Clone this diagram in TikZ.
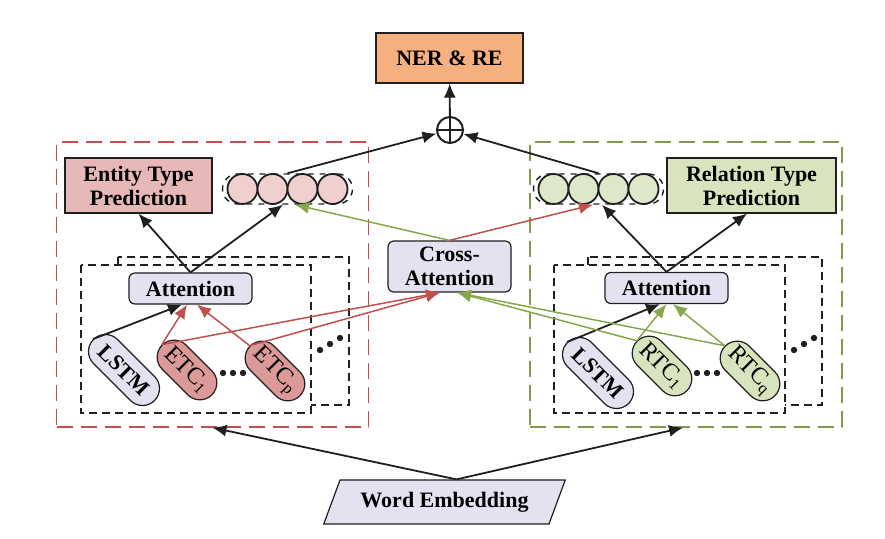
\documentclass[tikz,border=0pt]{standalone}
\usepackage{fontspec}
\setmainfont{Liberation Serif}
\usepackage{xcolor}
\usetikzlibrary{arrows.meta,shapes.geometric}
\definecolor{dark}{HTML}{1F1F1F}
\definecolor{redln}{HTML}{C0504D}
\definecolor{grnln}{HTML}{86A84A}
\definecolor{grnfr}{HTML}{7F9A48}
\definecolor{orng}{HTML}{F6B07F}
\definecolor{pinkb}{HTML}{E6B9B8}
\definecolor{pinkc}{HTML}{F0D0CE}
\definecolor{pinkp}{HTML}{DB9A98}
\definecolor{grnb}{HTML}{D7E4BD}
\definecolor{grnc}{HTML}{DDE8CB}
\definecolor{lav}{HTML}{E4E1F0}

\begin{document}
\begin{tikzpicture}[x=0.5pt,y=-0.5pt,
    font=\bfseries\fontsize{11}{12}\selectfont,
    box/.style={draw=dark, line width=0.6pt, align=center, inner sep=1pt},
    soft/.style={box, rounded corners=3pt, fill=lav},
    pill/.style={draw=dark, line width=0.6pt, rounded corners=8.5pt, minimum height=17pt, rotate=-45, inner xsep=6pt, inner ysep=1pt},
    tag/.style={pill, inner xsep=4pt, font=\mdseries\fontsize{12}{13}\selectfont},
    ball/.style={circle, draw=dark, line width=0.9pt, minimum size=15pt, inner sep=0pt},
    chain/.style={draw=dark, dashed, line width=0.7pt, rounded corners=7.5pt, minimum width=65pt, minimum height=15pt},
    frame/.style={dash pattern=on 8pt off 4pt, line width=0.7pt, minimum width=156pt, minimum height=142.5pt},
    inbox/.style={draw=dark, dash pattern=on 4pt off 2.5pt, line width=0.7pt, fill=white},
    arr/.style={-{Latex[length=7pt,width=6pt]}, line width=0.9pt, draw=dark},
    rarr/.style={arr, draw=redln, line width=0.75pt},
    garr/.style={arr, draw=grnln, line width=0.75pt}]
  \useasboundingbox (0,0) rectangle (885,539);

  % outer frames
  \node[frame, draw=redln] (entframe) at (212.5,284.5) {};
  \node[frame, draw=grnfr] (relframe) at (686,284.5) {};

  % stacked inner boxes
  \draw[inbox] (118,257) rectangle (349,405);
  \draw[inbox] (81,265) rectangle (311,413);
  \draw[inbox] (588,257) rectangle (822,405);
  \draw[inbox] (554,265) rectangle (785,413);

  % top
  \node[box, fill=orng, minimum width=73.5pt, minimum height=25pt] (ner) at (449.5,58) {NER \& RE};
  \node[circle, draw=dark, line width=1pt, fill=white, minimum size=13pt, inner sep=0pt,
        path picture={\draw[line width=1pt] (path picture bounding box.north) -- (path picture bounding box.south)
                      (path picture bounding box.west) -- (path picture bounding box.east);}] (plus) at (450,130) {};

  % prediction boxes
  \node[box, fill=pinkb, minimum width=73.5pt, minimum height=27.5pt] (entbox) at (138.5,185.5) {Entity Type\\Prediction};
  \node[box, fill=grnb, minimum width=84.5pt, minimum height=27.5pt] (relbox) at (751.5,185.5) {Relation Type\\Prediction};

  % hidden state chains
  \node[chain] (embL) at (287.5,189) {};
  \foreach \i/\x in {1/242.5,2/272.5,3/302.5,4/332.5}
    \node[ball, fill=pinkc] (cl\i) at (\x,189) {};
  \node[chain] (embR) at (598.5,189) {};
  \foreach \i/\x in {1/553.5,2/583.5,3/613.5,4/643.5}
    \node[ball, fill=grnc] (cr\i) at (\x,189) {};

  % attention
  \node[soft, minimum width=61.5pt, minimum height=15.5pt] (attL) at (190.5,288.5) {Attention};
  \node[soft, minimum width=61.5pt, minimum height=15.5pt] (attR) at (666.5,288) {Attention};
  \node[soft, minimum width=61.5pt, minimum height=25.5pt] (cross) at (449.5,266.5) {Cross-\\Attention};

  % capsules
  \node[pill, fill=lav] (lstmL) at (124,370) {LSTM};
  \node[tag, fill=pinkp] (etc1L) at (187,370) {ETC\textsubscript{1}};
  \node[tag, fill=pinkp] (etcpL) at (275,371) {ETC\textsubscript{p}};
  \node[pill, fill=lav] (lstmR) at (598,373) {LSTM};
  \node[tag, fill=grnb] (rtc1R) at (662,366) {RTC\textsubscript{1}};
  \node[tag, fill=grnb] (rtcqR) at (750,371) {RTC\textsubscript{q}};

  \foreach \d in {-10,0,10} {
    \fill[dark] (233+\d,373) circle (1.6pt);
    \fill[dark] (707+\d,373) circle (1.6pt);
    \fill[dark] (330+\d,344-0.6*\d) circle (1.6pt);
    \fill[dark] (804+\d,344-0.6*\d) circle (1.6pt);
  }

  % word embedding
  \node[box, fill=lav, trapezium, trapezium left angle=61, trapezium right angle=119,
        trapezium stretches=true, minimum width=121.5pt, minimum height=22pt] (wemb) at (444.5,502) {Word Embedding};

  % connectors
  \draw[arr] ([xshift=6pt]wemb.north) -- (entframe.south);
  \draw[arr] ([xshift=6pt]wemb.north) -- ([xshift=-1.5pt]relframe.south);

  \draw[arr] (lstmL.west) -- ([xshift=-4.25pt]attL.south);
  \draw[rarr] (etc1L.west) -- ([xshift=-1.75pt]attL.south);
  \draw[rarr] (etcpL.west) -- ([xshift=3.25pt]attL.south);
  \draw[arr] (lstmR.west) -- ([xshift=-3.25pt]attR.south);
  \draw[garr] (rtc1R.west) -- (attR.south);
  \draw[garr] (rtcqR.west) -- ([xshift=3.25pt]attR.south);

  \draw[rarr] (etc1L.west) -- ([xshift=-4.75pt]cross.south);
  \draw[rarr] (etcpL.west) -- ([xshift=-4.75pt]cross.south);
  \draw[garr] (rtc1R.west) -- ([xshift=3.75pt]cross.south);
  \draw[garr] (rtcqR.west) -- ([xshift=3.75pt]cross.south);

  \draw[arr] (attL.north) -- (entbox.south);
  \draw[arr] (attL.north) -- ([xshift=-2.25pt]embL.south);
  \draw[arr] (attR.north) -- ([xshift=-2.25pt]relbox.south);
  \draw[arr] (attR.north) -- ([xshift=1.75pt]embR.south);
  \draw[garr] (cross.north) -- ([xshift=3.75pt]embL.south);
  \draw[rarr] (cross.north) -- ([xshift=-2.75pt]embR.south);

  \draw[arr] (embL.north) -- (plus);
  \draw[arr] (embR.north) -- (plus);
  \draw[arr] (plus) -- (ner);
\end{tikzpicture}
\end{document}
